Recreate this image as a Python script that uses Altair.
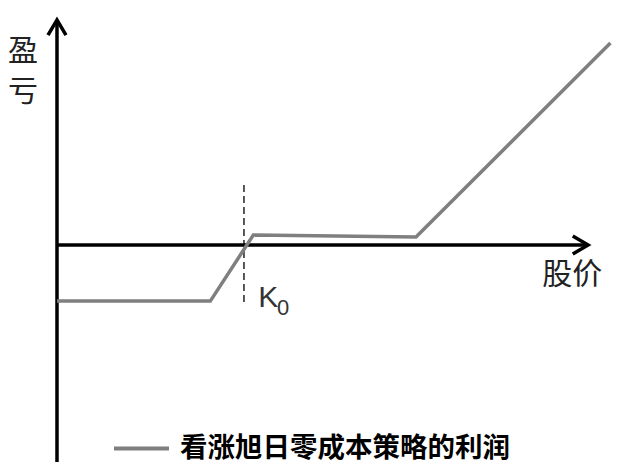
import altair as alt
import pandas as pd

# ---- data (abstract units: strike K0 = 100) ----
price = [0, 82, 105, 192, 296]
profit = [-30, -30, 5.3, 4.3, 108]
series_name = "看涨旭日零成本策略的利润"
strike = 100
strike_dash_low = -30.5
strike_dash_high = 33
strike_label = "K"
strike_sub = "0"
x_title = "股价"
y_title = "盈亏"

# axis extents (in data units)
x_axis_end = 284
y_axis_low = -116
y_axis_high = 120

xs = alt.Scale(domain=[-26.2, 297.9], nice=False, zero=False)
ys = alt.Scale(domain=[-117.1, 126.7], nice=False, zero=False)

def X(field="x"):
    return alt.X(f"{field}:Q", scale=xs, axis=None)

def Y(field="y"):
    return alt.Y(f"{field}:Q", scale=ys, axis=None)

line_df = pd.DataFrame({"x": price, "y": profit, "series": [series_name] * len(price)})

yaxis_df = pd.DataFrame({"x": [0], "y": [y_axis_low], "y2": [y_axis_high]})
xaxis_df = pd.DataFrame({"x": [0], "x2": [x_axis_end], "y": [0]})
dash_df = pd.DataFrame({"x": [strike], "y": [strike_dash_low], "y2": [strike_dash_high]})

y_axis = alt.Chart(yaxis_df).mark_rule(color="black", strokeWidth=3.5).encode(
    x=X(), y=Y(), y2="y2:Q")
x_axis = alt.Chart(xaxis_df).mark_rule(color="black", strokeWidth=3.5).encode(
    x=X(), x2="x2:Q", y=Y())

up_arrow = alt.Chart(pd.DataFrame({"x": [0], "y": [y_axis_high - 4]})).mark_point(
    shape="M-1,0.8L0,-0.9L1,0.8", size=324, filled=False, color="black",
    strokeWidth=3.5, strokeJoin="miter", opacity=1).encode(x=X(), y=Y())
right_arrow = alt.Chart(pd.DataFrame({"x": [x_axis_end - 4.3], "y": [0]})).mark_point(
    shape="M-0.8,-1L0.9,0L-0.8,1", size=324, filled=False, color="black",
    strokeWidth=3.5, strokeJoin="miter", opacity=1).encode(x=X(), y=Y())

dash = alt.Chart(dash_df).mark_rule(color="black", strokeWidth=1.3, strokeDash=[7, 4]).encode(
    x=X(), y=Y(), y2="y2:Q")

line = alt.Chart(line_df).mark_line(strokeWidth=3.5, strokeJoin="miter").encode(
    x=X(), y=Y(),
    color=alt.Color("series:N", scale=alt.Scale(range=["#7f7f7f"]),
                    legend=alt.Legend(orient="none", legendX=104, legendY=411,
                                      title=None, symbolType="stroke", symbolSize=3025,
                                      symbolStrokeWidth=4, labelFontSize=27.5,
                                      labelFont="Noto Sans CJK SC", labelFontWeight="bold",
                                      labelColor="black", labelOffset=9, padding=0,
                                      labelLimit=0)))

k_text = alt.Chart(pd.DataFrame({"x": [107.6], "y": [-33.2], "t": [strike_label]})).mark_text(
    font="Liberation Sans", fontSize=30, align="left", baseline="alphabetic", color="#333333"
).encode(x=X(), y=Y(), text="t:N")
k_sub = alt.Chart(pd.DataFrame({"x": [117.6], "y": [-37.2], "t": [strike_sub]})).mark_text(
    font="Liberation Sans", fontSize=22, align="left", baseline="alphabetic", color="#333333"
).encode(x=X(), y=Y(), text="t:N")

xt = alt.Chart(pd.DataFrame({"x": [259.5], "y": [-16], "t": [x_title]})).mark_text(
    font="Noto Sans CJK SC", fontSize=30, align="left", baseline="middle", color="#222222"
).encode(x=X(), y=Y(), text="t:N")
yt = alt.Chart(pd.DataFrame({"x": [-18.2], "y": [103], "t": ["\n".join(y_title)]})).mark_text(
    font="Noto Sans CJK SC", fontSize=30, align="center", baseline="middle", color="#222222",
    lineBreak="\n", lineHeight=40
).encode(x=X(), y=Y(), text="t:N")

chart = alt.layer(y_axis, x_axis, up_arrow, right_arrow, dash, line, k_text, k_sub, xt, yt).properties(
    width=606, height=456, autosize="none", padding=0
).configure_view(stroke=None)

chart.save("out.html", embed_options={"renderer": "svg", "actions": False})
